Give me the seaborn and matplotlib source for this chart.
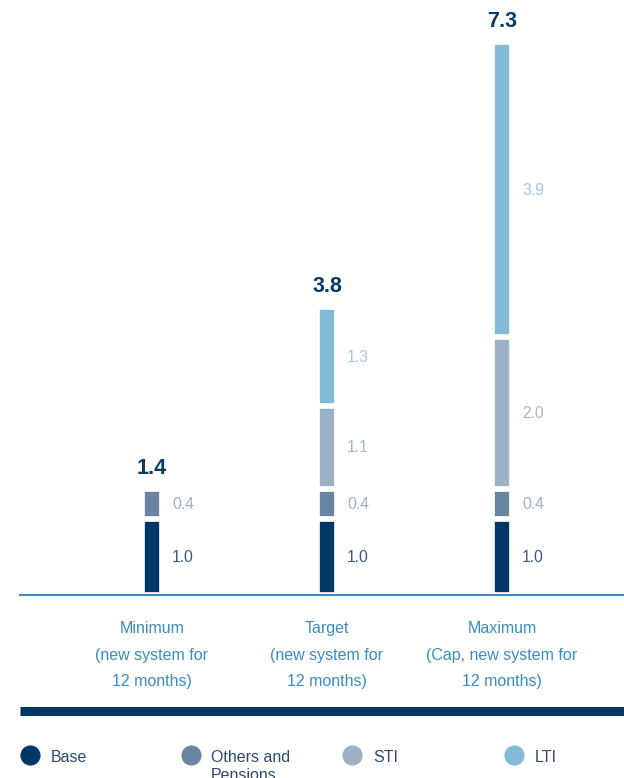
import numpy as np
import pandas as pd
import matplotlib
matplotlib.use("Agg")
import matplotlib.pyplot as plt
from matplotlib.lines import Line2D
import seaborn as sns

# ---- data ----
categories = ["Minimum\n(new system for\n12 months)",
              "Target\n(new system for\n12 months)",
              "Maximum\n(Cap, new system for\n12 months)"]
series_names = ["Base", "Others and\nPensions", "STI", "LTI"]
base = [1.0, 1.0, 1.0]
others = [0.4, 0.4, 0.4]
sti = [0.0, 1.1, 2.0]
lti = [0.0, 1.3, 3.9]
totals = [1.4, 3.8, 7.3]

colors = ["#003764", "#6886a4", "#9db1c5", "#83bbd6"]
label_colors = ["#3d5a7a", "#9db1c5", "#a6b7ca", "#a6c8dc"]
blue = "#3a8cc2"
navy = "#0a3a66"

sns.set_style("white")
plt.rcParams["font.family"] = ["Liberation Sans", "DejaVu Sans"]

W, H = 624, 778
fig = plt.figure(figsize=(W / 100, H / 100), dpi=100)

# axes placement (pixel based)
ax_left, ax_right = 20, 624
ax_bottom_px = 595  # y from top
ymax = 7.8
px_per_unit = 75.8
ax_top_px = ax_bottom_px - ymax * px_per_unit
ax = fig.add_axes([ax_left / W, 1 - ax_bottom_px / H,
                   (ax_right - ax_left) / W, (ax_bottom_px - ax_top_px) / H])

series = [base, others, sti, lti]
cum = np.cumsum(np.array(series), axis=0)
df = pd.DataFrame({"category": categories})

# draw cumulative layers from top down so lower layers overlay
for i in range(len(series) - 1, -1, -1):
    df["value"] = cum[i]
    sns.barplot(data=df, x="category", y="value", color=colors[i],
                saturation=1, width=0.118, edgecolor="white",
                linewidth=4.1, ax=ax, errorbar=None)

# segment labels
for j in range(len(categories)):
    bottom = 0.0
    for i, s in enumerate(series):
        v = s[j]
        if v > 0:
            ax.annotate(f"{v:.1f}", xy=(j, bottom + v / 2), xytext=(14.5, 0.5),
                        textcoords="offset points", ha="left",
                        va="center_baseline", fontsize=11.3,
                        color=label_colors[i])
        bottom += v
    ax.annotate(f"{totals[j]:.1f}", xy=(j, totals[j]), xytext=(0, 10.5),
                textcoords="offset points", ha="center", va="baseline",
                fontsize=15.5, fontweight="bold", color=navy)

ax.set_xlim(-0.754, 2.697)
ax.set_ylim(0, ymax)
ax.set_yticks([])
ax.set_xlabel("")
ax.set_ylabel("")
for s in ["top", "left", "right"]:
    ax.spines[s].set_visible(False)
ax.spines["bottom"].set_color(blue)
ax.spines["bottom"].set_linewidth(1.5)
ax.spines["bottom"].set_zorder(5)
ax.tick_params(axis="x", direction="out", length=10.5, width=1.1,
               color=blue, labelcolor=blue, labelsize=11.5, pad=8.3)
for t in ax.get_xticklabels():
    t.set_linespacing(1.96)

# thick divider
y_div = 1 - 711 / H
fig.add_artist(Line2D([20 / W, 1], [y_div, y_div], transform=fig.transFigure,
                      color="#003764", lw=6.5, solid_capstyle="butt"))

# legend
leg_y = 1 - 755 / H
circle_x = [30, 191, 352, 514]
text_x = [51, 211, 373, 535]
for i, name in enumerate(series_names):
    fig.add_artist(Line2D([circle_x[i] / W], [leg_y], transform=fig.transFigure,
                          marker="o", markersize=13.5, color=colors[i],
                          linestyle="none"))
    fig.text(text_x[i] / W, 1 - 749.5 / H, name, ha="left", va="top",
             fontsize=11.5, color="#2d4a6b", linespacing=1.3)

fig.savefig("out.png", dpi=100)
